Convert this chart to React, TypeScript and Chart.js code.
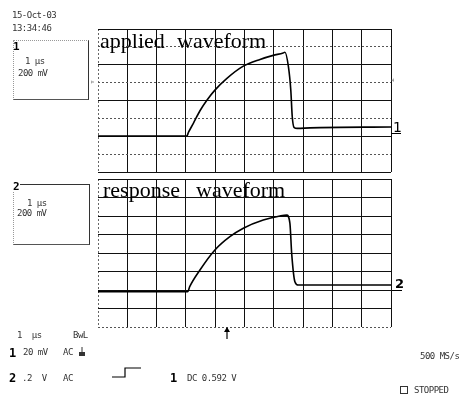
import React, { useEffect, useRef } from "react";
import { Chart, registerables } from "chart.js";

Chart.register(...registerables);

// Time axis: 1 µs / div, 10 divisions
const TIME_MIN = 0;
const TIME_MAX = 10;
const TIME_STEP = 1;
// Vertical: 200 mV / div, 8 divisions centred on 0
const V_MIN = -800;
const V_MAX = 800;
const V_STEP = 200;

// Channel 1 – applied waveform (µs, mV)
const TIME_CH1 = [0, 3.03, 3.09, 3.25, 3.48, 3.71, 3.99, 4.39, 4.96, 5.53, 5.98, 6.32, 6.38, 6.5, 6.58, 6.63, 6.69, 6.8, 7.24, 10];
const CH1_MV = [-398, -398, -355, -258, -115, 0, 116, 245, 384, 460, 505, 532, 540, 376, 116, -182, -300, -312, -306, -296];

// Channel 2 – response waveform (µs, mV)
const TIME_CH2 = [0, 3.06, 3.13, 3.48, 3.99, 4.5, 4.96, 5.64, 6.21, 6.44, 6.55, 6.61, 6.72, 6.84, 10];
const CH2_MV = [-418, -418, -364, -184, 32, 176, 268, 356, 400, 410, 320, -4, -310, -346, -346];

const mono = "'DejaVu Sans Mono', monospace";
const serif = "'Liberation Serif', 'DejaVu Serif', serif";

type Pad = { left: number; top: number; right: number; bottom: number };

function buildConfig(times: number[], values: number[], padding: Pad, yDashed: (i: number) => boolean): any {
  return {
    type: "scatter",
    data: {
      datasets: [
        {
          data: times.map((t, i) => ({ x: t, y: values[i] })),
          showLine: true,
          borderColor: "#000",
          borderWidth: 1.6,
          pointRadius: 0,
          cubicInterpolationMode: "monotone",
          fill: false,
        },
      ],
    },
    options: {
      responsive: false,
      animation: false,
      events: [],
      layout: { padding },
      plugins: { legend: { display: false }, tooltip: { enabled: false } },
      scales: {
        x: {
          type: "linear",
          min: TIME_MIN,
          max: TIME_MAX,
          ticks: { display: false, stepSize: TIME_STEP },
          grid: {
            drawTicks: false,
            lineWidth: 1,
            color: (ctx: any) => (ctx.index === 0 ? "#666" : "#111"),
          },
          border: { display: false, dash: (ctx: any) => (ctx.index === 0 ? [2, 2] : []) },
        },
        y: {
          type: "linear",
          min: V_MIN,
          max: V_MAX,
          ticks: { display: false, stepSize: V_STEP },
          grid: {
            drawTicks: false,
            lineWidth: 1,
            color: (ctx: any) => (ctx.index !== undefined && yDashed(ctx.index) ? "#555" : "#111"),
          },
          border: {
            display: false,
            dash: (ctx: any) => (ctx.index !== undefined && yDashed(ctx.index) ? [2, 2] : []),
          },
        },
      },
    },
  };
}

function Scope({ times, values, padding, yDashed }: { times: number[]; values: number[]; padding: Pad; yDashed: (i: number) => boolean }) {
  const ref = useRef<HTMLCanvasElement | null>(null);
  useEffect(() => {
    if (!ref.current) return;
    const chart = new Chart(ref.current, buildConfig(times, values, padding, yDashed));
    return () => chart.destroy();
  }, []);
  return (
    <canvas
      ref={ref}
      width={470}
      height={395}
      style={{ position: "absolute", left: 0, top: 0, width: 470, height: 395 }}
    />
  );
}

function T({ x, y, children, size = 9, bold = false, font = mono, color = "#333", ls = -0.5 }: any) {
  return (
    <div
      style={{
        position: "absolute",
        left: x,
        top: y,
        fontFamily: font,
        fontSize: size,
        fontWeight: bold ? "bold" : "normal",
        lineHeight: 1,
        whiteSpace: "pre",
        color,
        letterSpacing: ls,
      }}
    >
      {children}
    </div>
  );
}

export default function App() {
  return (
    <div style={{ position: "fixed", left: 0, top: 0, width: 470, height: 395, background: "#fff", overflow: "hidden" }}>
      <Scope
        times={TIME_CH1}
        values={CH1_MV}
        padding={{ left: 98, top: 29, right: 79, bottom: 223 }}
        yDashed={(i) => i % 2 === 1}
      />
      <Scope
        times={TIME_CH2}
        values={CH2_MV}
        padding={{ left: 98, top: 179, right: 79, bottom: 68 }}
        yDashed={(i) => i === 0}
      />

      {/* panel titles */}
      <T x={100} y={30} size={22} font={serif} color="#000" ls={0}>applied</T>
      <T x={177} y={30} size={22} font={serif} color="#000" ls={0}>waveform</T>
      <T x={103} y={179} size={22} font={serif} color="#000" ls={0}>response</T>
      <T x={196} y={179} size={22} font={serif} color="#000" ls={0}>waveform</T>

      {/* date / time */}
      <T x={12} y={11}>15-Oct-03</T>
      <T x={12} y={24}>13:34:46</T>

      {/* channel 1 box */}
      <div style={{ position: "absolute", left: 13, top: 40, width: 74, height: 58, borderTop: "1px dotted #999", borderLeft: "1px dotted #999", borderRight: "1px solid #333", borderBottom: "1px solid #555" }} />
      <T x={13} y={41} size={11} bold color="#000" ls={0}>1</T>
      <T x={25} y={57}>1 µs</T>
      <T x={18} y={69}>200 mV</T>

      {/* channel 2 box */}
      <div style={{ position: "absolute", left: 13, top: 184, width: 75, height: 59, borderTop: "1px solid #333", borderLeft: "1px dotted #999", borderRight: "1px solid #333", borderBottom: "1px solid #555" }} />
      <div style={{ position: "absolute", left: 12, top: 180, width: 8, height: 12, background: "#fff" }} />
      <T x={13} y={181} size={11} bold color="#000" ls={0}>2</T>
      <T x={27} y={199}>1 µs</T>
      <T x={17} y={209}>200 mV</T>

      {/* trigger level markers */}
      <T x={90} y={78} size={8} color="#666" ls={0}>▹</T>
      <T x={390} y={76} size={8} color="#666" ls={0}>◃</T>

      {/* trace reference markers */}
      <T x={393} y={120} size={14} font="'DejaVu Sans', sans-serif" color="#000" ls={0}>1</T>
      <div style={{ position: "absolute", left: 391, top: 133, width: 10, height: 1, background: "#000" }} />
      <T x={395} y={277} size={13} bold font="'DejaVu Sans', sans-serif" color="#000" ls={0}>2</T>
      <div style={{ position: "absolute", left: 392, top: 290, width: 10, height: 1, background: "#000" }} />

      {/* trigger position arrow */}
      <svg style={{ position: "absolute", left: 221, top: 326 }} width={12} height={14}>
        <line x1={6} y1={2} x2={6} y2={13} stroke="#000" strokeWidth={1.2} />
        <polygon points="3,6 6,1 9,6" fill="#000" />
      </svg>

      {/* status lines */}
      <T x={17} y={331}>1  µs</T>
      <T x={73} y={331}>BwL</T>

      <T x={9} y={347} size={12} bold color="#000" ls={0}>1</T>
      <T x={23} y={348}>20 mV</T>
      <T x={63} y={348}>AC</T>
      <svg style={{ position: "absolute", left: 78, top: 347 }} width={8} height={10}>
        <line x1={4} y1={0} x2={4} y2={5} stroke="#333" strokeWidth={1} />
        <rect x={1} y={5} width={6} height={4} fill="#333" />
      </svg>
      <T x={420} y={352}>500 MS/s</T>

      <T x={9} y={372} size={12} bold color="#000" ls={0}>2</T>
      <T x={22} y={374}>.2  V</T>
      <T x={63} y={374}>AC</T>
      <svg style={{ position: "absolute", left: 110, top: 365 }} width={34} height={14}>
        <polyline points="2,12 15,12 15,3 31,3" fill="none" stroke="#000" strokeWidth={1.2} />
      </svg>
      <T x={170} y={372} size={12} bold color="#000" ls={0}>1</T>
      <T x={187} y={374}>DC 0.592 V</T>

      <div style={{ position: "absolute", left: 400, top: 386, width: 6, height: 6, border: "1px solid #333" }} />
      <T x={414} y={386}>STOPPED</T>
    </div>
  );
}
